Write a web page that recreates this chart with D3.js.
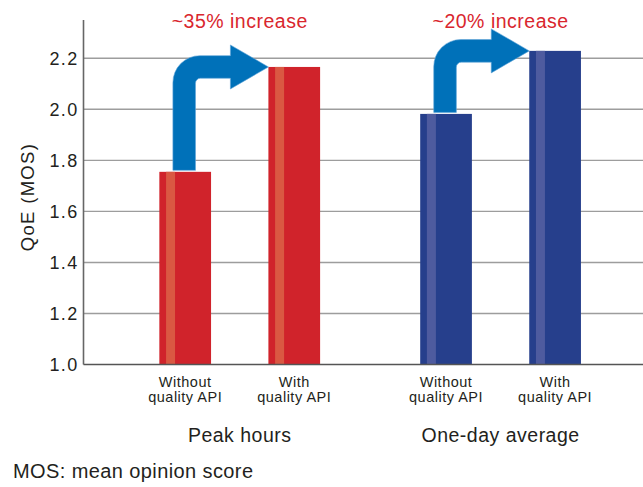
<!DOCTYPE html>
<html>
<head>
<meta charset="utf-8">
<script src="https://cdn.jsdelivr.net/npm/d3@7"></script>
<style>
  html, body { margin: 0; padding: 0; background: #fff; }
  svg { display: block; font-family: "Liberation Sans", Arial, Helvetica, sans-serif; }
</style>
</head>
<body>
<svg id="chart" width="643" height="487"></svg>
<script>
// QoE (MOS) with and without the quality API
const groups = ["Peak hours", "One-day average"];
const conditions = ["Without\nquality API", "With\nquality API"];
const peakValues = [1.755, 2.166];
const dailyValues = [1.982, 2.229];
const increaseLabels = ["~35% increase", "~20% increase"];
const yTicks = [1.0, 1.2, 1.4, 1.6, 1.8, 2.0, 2.2];

const seriesValues = [peakValues, dailyValues];
const barColors = ["#d0232b", "#263f8c"];
const stripeColors = ["#da5842", "#4e5b9f"];
const arrowColor = "#0071b9";
const textColor = "#231f20";

const svg = d3.select("#chart");
const plotLeft = 83.5, plotRight = 643, plotTop = 20, plotBottom = 364.5;
const barWidth = 51.7;

const y = d3.scaleLinear().domain([1.0, 2.35]).range([plotBottom, plotTop]);

// Outer band per group, inner point per condition
const x0 = d3.scaleBand().domain(groups).range([109.3, 631]).padding(0);
const x1 = d3.scalePoint().domain(conditions).range([0, x0.bandwidth()]).padding(0.696);

// Horizontal grid lines
svg.append("g")
  .selectAll("line")
  .data(yTicks.slice(1))
  .join("line")
  .attr("x1", plotLeft).attr("x2", plotRight)
  .attr("y1", d => y(d)).attr("y2", d => y(d))
  .attr("stroke", "#9d9d9d")
  .attr("stroke-width", 1.4);

// Y axis
const yAxis = d3.axisLeft(y).tickValues(yTicks).tickFormat(d3.format(".1f")).tickSize(0).tickPadding(5);
const gy = svg.append("g").attr("transform", `translate(${plotLeft},0)`).call(yAxis);
gy.select(".domain").remove();
gy.selectAll("text")
  .attr("font-size", 18)
  .attr("letter-spacing", 1.3)
  .attr("fill", textColor)
  .attr("font-family", "Liberation Sans, Arial, sans-serif");

svg.append("line")
  .attr("x1", plotLeft).attr("x2", plotLeft)
  .attr("y1", plotTop).attr("y2", plotBottom)
  .attr("stroke", "#666").attr("stroke-width", 1.6);

// Bars, labels and arrows per group
groups.forEach((g, gi) => {
  const gsel = svg.append("g").attr("transform", `translate(${x0(g)},0)`);
  conditions.forEach((c, ci) => {
    const v = seriesValues[gi][ci];
    const cxBar = x1(c);
    const bx = cxBar - barWidth / 2;
    gsel.append("rect")
      .attr("x", bx).attr("y", y(v))
      .attr("width", barWidth).attr("height", y(1.0) - y(v))
      .attr("fill", barColors[gi]);
    gsel.append("rect")
      .attr("x", bx + 6.7).attr("y", y(v))
      .attr("width", 9).attr("height", y(1.0) - y(v))
      .attr("fill", stripeColors[gi]);
    // condition label
    const t = gsel.append("text")
      .attr("x", cxBar)
      .attr("y", 386.5)
      .attr("text-anchor", "middle")
      .attr("font-size", 14.5)
      .attr("letter-spacing", 0.5)
      .attr("fill", textColor);
    c.split("\n").forEach((ln, li) => {
      t.append("tspan").attr("x", cxBar).attr("dy", li === 0 ? 0 : 15.5).text(ln);
    });
  });
  // group label
  gsel.append("text")
    .attr("x", x0.bandwidth() / 2)
    .attr("y", 442)
    .attr("text-anchor", "middle")
    .attr("font-size", 19.5)
    .attr("letter-spacing", 0.5)
    .attr("fill", textColor)
    .text(g);

  // bent arrow from the "without" bar top to the "with" bar top
  const v0 = seriesValues[gi][0], v1 = seriesValues[gi][1];
  const cx = x0(g) + x1(conditions[0]) - 1;
  const tipX = x0(g) + x1(conditions[1]) - barWidth / 2;
  const yStart = y(v0) - 1.5;
  const yMid = y(v1);
  const hw = 11.3;      // half shaft width
  const headHalf = 22;  // half head height
  const headLen = 38;
  const rOut = 27, rIn = 5;
  const baseX = tipX - headLen;
  const p = d3.path();
  p.moveTo(cx - hw, yStart);
  p.lineTo(cx - hw, yMid - hw + rOut);
  p.arcTo(cx - hw, yMid - hw, cx - hw + rOut, yMid - hw, rOut);
  p.lineTo(baseX, yMid - hw);
  p.lineTo(baseX, yMid - headHalf);
  p.lineTo(tipX, yMid);
  p.lineTo(baseX, yMid + headHalf);
  p.lineTo(baseX, yMid + hw);
  p.lineTo(cx + hw + rIn, yMid + hw);
  p.arcTo(cx + hw, yMid + hw, cx + hw, yMid + hw + rIn, rIn);
  p.lineTo(cx + hw, yStart);
  p.closePath();
  svg.append("path")
    .attr("d", p.toString())
    .attr("fill", arrowColor)
    .attr("stroke", "#5fa4d8")
    .attr("stroke-width", 0.6);

  // increase annotation
  svg.append("text")
    .attr("x", x0(g) + x0.bandwidth() / 2)
    .attr("y", 28)
    .attr("text-anchor", "middle")
    .attr("font-size", 19.5)
    .attr("letter-spacing", 0.5)
    .attr("fill", "#d9262e")
    .text(increaseLabels[gi]);
});

// Baseline
svg.append("line")
  .attr("x1", plotLeft).attr("x2", plotRight)
  .attr("y1", plotBottom).attr("y2", plotBottom)
  .attr("stroke", "#555").attr("stroke-width", 1.6);

// Y axis title
svg.append("text")
  .attr("transform", `translate(34,197) rotate(-90)`)
  .attr("text-anchor", "middle")
  .attr("font-size", 18.5)
  .attr("letter-spacing", 1.3)
  .attr("fill", textColor)
  .text("QoE (MOS)");

// Footnote
svg.append("text")
  .attr("x", 13).attr("y", 478)
  .attr("font-size", 20)
  .attr("letter-spacing", 0.4)
  .attr("fill", textColor)
  .text("MOS: mean opinion score");
</script>
</body>
</html>
